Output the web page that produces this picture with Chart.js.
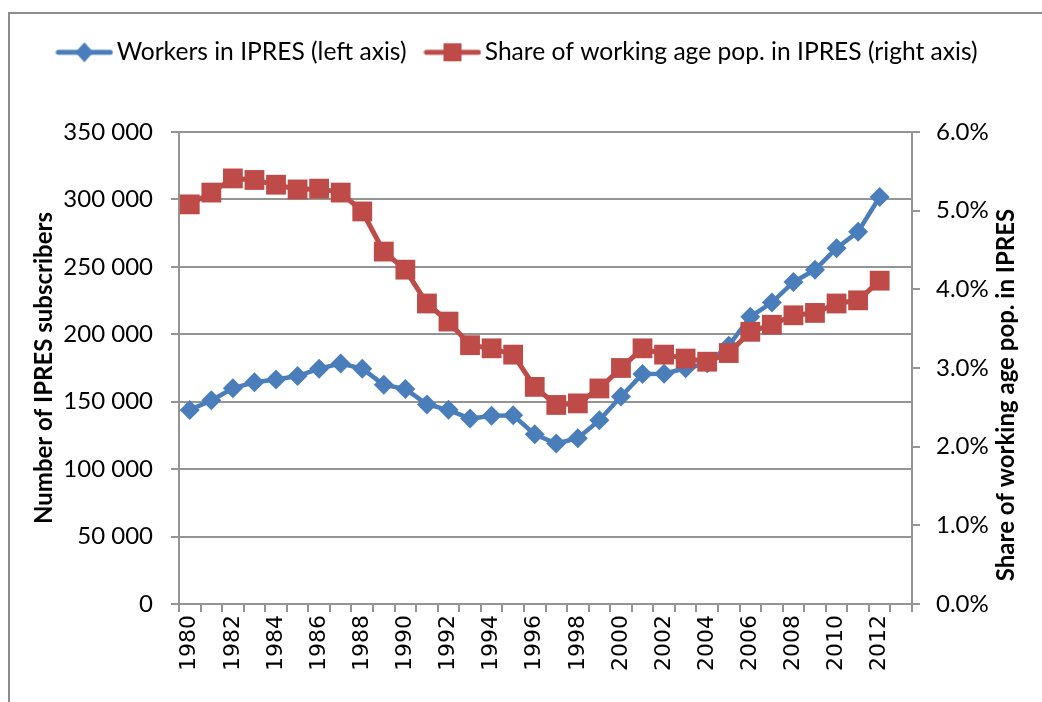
<!DOCTYPE html>
<html><head><meta charset="utf-8">
<script src="https://cdn.jsdelivr.net/npm/chart.js@4/dist/chart.umd.min.js"></script>
<style>
html,body{margin:0;padding:0;background:#fff;overflow:hidden;width:1042px;height:702px;}
#frame{position:absolute;left:8px;top:12px;width:1100px;height:800px;border:2px solid #8c8c8c;box-sizing:border-box;}
#wrap{position:absolute;left:0;top:0;width:1042px;height:702px;}
</style></head><body>
<div id="frame"></div>
<div id="wrap"><canvas id="c" width="1042" height="702"></canvas></div>
<script>
const years = ['1980','1981','1982','1983','1984','1985','1986','1987','1988','1989','1990','1991','1992','1993','1994','1995','1996','1997','1998','1999','2000','2001','2002','2003','2004','2005','2006','2007','2008','2009','2010','2011','2012','2013'];
const workers = [143900,151000,160000,164500,166500,169000,174500,178300,174500,162500,159500,148000,144000,137500,139500,140000,125800,119000,123000,136300,153800,170500,170800,174800,178500,191500,213000,223500,238800,247800,263800,276000,301800,null];
const share = [5.08,5.23,5.41,5.39,5.33,5.27,5.28,5.23,4.99,4.48,4.25,3.82,3.59,3.29,3.25,3.17,2.76,2.53,2.55,2.74,3.00,3.25,3.17,3.12,3.08,3.19,3.46,3.55,3.67,3.70,3.82,3.86,4.11,null];
const leftTicks = [0,50000,100000,150000,200000,250000,300000,350000];
const rightTicks = [0,1,2,3,4,5,6];
const seriesNames = ['Workers in IPRES (left axis)','Share of working age pop. in IPRES (right axis)'];
const leftTitle = 'Number of IPRES subscribers';
const rightTitle = 'Share of working age pop. in IPRES';

const BLUE = '#4a7ebb', RED = '#be4b48', GRID = '#949494';
const FONT = 'Lato, "Open Sans", sans-serif';

function legendIcon(color, kind){
  const cv = document.createElement('canvas');
  cv.width = 58; cv.height = 22;
  const g = cv.getContext('2d');
  g.strokeStyle = color; g.lineWidth = 5; g.lineCap = 'round';
  g.beginPath(); g.moveTo(3,11); g.lineTo(55,11); g.stroke();
  g.fillStyle = color;
  g.beginPath();
  if (kind === 'diamond'){ g.moveTo(29,1); g.lineTo(38,11); g.lineTo(29,21); g.lineTo(20,11); g.closePath(); }
  else { g.rect(20,2,18,18); }
  g.fill();
  return cv;
}
const iconBlue = legendIcon(BLUE,'diamond');
const iconRed = legendIcon(RED,'square');

const legendHeightPlugin = {
  id: 'legendHeight',
  beforeLayout(chart){
    const lg = chart.legend;
    if (lg && !lg._fixedH){
      const f = lg.fit;
      lg.fit = function(){ f.call(this); this.height = 118; };
      lg._fixedH = true;
    }
  }
};

const rightTitlePlugin = {
  id: 'rightTitle',
  afterDraw(chart){
    const ctx = chart.ctx;
    ctx.save();
    ctx.translate(1006, 395);
    ctx.rotate(-Math.PI/2);
    ctx.font = 'bold 24px ' + FONT;
    ctx.fillStyle = '#000';
    ctx.textAlign = 'center';
    ctx.textBaseline = 'middle';
    ctx.fillText(rightTitle, 0, 0);
    ctx.restore();
  }
};

const fmtSpace = v => String(v).replace(/\B(?=(\d{3})+(?!\d))/g, ' ');

new Chart(document.getElementById('c'), {
  type: 'line',
  data: {
    labels: years,
    datasets: [
      { label: seriesNames[0], data: workers, yAxisID: 'y', order: 1,
        borderColor: BLUE, backgroundColor: BLUE, borderWidth: 4.5,
        pointStyle: 'rectRot', pointRadius: 10, pointBorderWidth: 0, pointBackgroundColor: BLUE },
      { label: seriesNames[1], data: share, yAxisID: 'y2', order: 0,
        borderColor: RED, backgroundColor: RED, borderWidth: 5,
        pointStyle: 'rect', pointRadius: 14, pointBorderWidth: 0, pointBackgroundColor: RED }
    ]
  },
  options: {
    responsive: false,
    animation: false,
    layout: { padding: { top: 14, left: 0, right: 0, bottom: 0 } },
    plugins: {
      tooltip: { enabled: false },
      legend: {
        display: true,
        position: 'top',
        labels: {
          usePointStyle: true,
          pointStyleWidth: 40,
          padding: 26,
          color: '#000',
          font: { family: FONT, size: 24.6 },
          sort: (a, b) => a.datasetIndex - b.datasetIndex,
          generateLabels: (chart) => chart.data.datasets.map((ds, i) => ({
            text: ds.label, datasetIndex: i, pointStyle: i === 0 ? iconBlue : iconRed,
            fillStyle: ds.borderColor, strokeStyle: ds.borderColor, lineWidth: 0, hidden: false, fontColor: '#000'
          }))
        }
      }
    },
    scales: {
      x: {
        type: 'category',
        offset: true,
        grid: { display: true, drawOnChartArea: false, drawTicks: true, tickLength: 8, offset: true, color: GRID, lineWidth: 2 },
        border: { display: true, color: GRID, width: 2 },
        ticks: {
          autoSkip: false, maxRotation: 90, minRotation: 90, padding: 3,
          color: '#000', font: { family: '"DejaVu Sans", sans-serif', size: 22 },
          callback: function(v, i){ return i % 2 === 0 ? years[i] : ''; }
        },
        afterFit: (s) => { s.height = 98; }
      },
      y: {
        position: 'left',
        min: 0, max: 350000,
        afterBuildTicks: (s) => { s.ticks = leftTicks.map(v => ({ value: v })); },
        grid: { color: GRID, lineWidth: 2, drawTicks: true, tickLength: 8 },
        border: { display: true, color: GRID, width: 2 },
        ticks: { padding: 18, color: '#000', font: { family: FONT, size: 24 }, callback: v => fmtSpace(v) },
        title: { display: true, text: leftTitle, color: '#000', font: { family: FONT, size: 24, weight: 'bold' }, padding: { top: 30, bottom: 0 } },
        afterFit: (s) => { s.width = 179; }
      },
      y2: {
        position: 'right',
        min: 0, max: 6,
        afterBuildTicks: (s) => { s.ticks = rightTicks.map(v => ({ value: v })); },
        grid: { drawOnChartArea: false, color: GRID, lineWidth: 2, drawTicks: true, tickLength: 8 },
        border: { display: true, color: GRID, width: 2 },
        ticks: { padding: 16, color: '#000', font: { family: FONT, size: 24 }, callback: v => v.toFixed(1) + '%' },
        afterFit: (s) => { s.width = 130; }
      }
    }
  },
  plugins: [legendHeightPlugin, rightTitlePlugin]
});
</script>
</body></html>
